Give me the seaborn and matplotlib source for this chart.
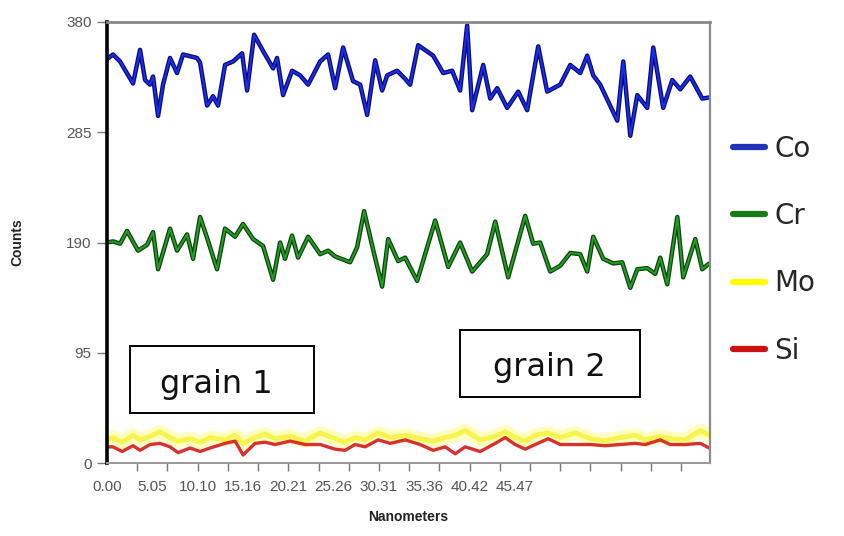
import numpy as np
import pandas as pd
import matplotlib
matplotlib.use("Agg")
import matplotlib.pyplot as plt
import matplotlib.patheffects as pe
from matplotlib.lines import Line2D
from matplotlib.patches import Rectangle
import seaborn as sns

# ---------------- data (nm, counts) ----------------
co_x = [0.0, 0.67, 1.45, 2.90, 3.68, 4.24, 4.79, 5.13, 5.69, 6.24, 7.02, 7.80, 8.47, 10.03, 10.37,
        11.15, 11.82, 12.37, 13.15, 14.05, 15.05, 15.61, 16.39, 17.39, 18.51, 18.95, 19.62, 20.62,
        21.52, 22.41, 23.75, 24.64, 25.42, 26.31, 27.42, 28.21, 28.99, 29.88, 30.66, 31.22, 32.33,
        33.22, 33.78, 34.67, 36.34, 37.46, 38.46, 39.35, 40.13, 40.69, 41.92, 42.70, 43.48, 44.59,
        45.82, 46.82, 48.05, 49.05, 50.50, 51.62, 52.73, 53.51, 54.18, 54.96, 56.86, 57.53, 58.31,
        59.09, 60.20, 60.87, 61.98, 62.99, 63.88, 64.99, 66.33, 67.11]
co_y = [348, 352, 346, 327, 356, 330, 326, 333, 299, 326, 349, 336, 352, 349, 345,
        308, 316, 308, 343, 346, 353, 321, 369, 355, 340, 349, 317, 338,
        334, 326, 346, 352, 323, 358, 329, 326, 300, 347, 321, 334, 338,
        331, 326, 360, 351, 336, 338, 321, 377, 304, 343, 314, 323, 306,
        320, 304, 359, 320, 326, 343, 336, 351, 334, 326, 295, 346, 282,
        317, 306, 358, 306, 330, 322, 333, 314, 315]

cr_x = [0.0, 0.67, 1.45, 2.23, 3.46, 4.46, 5.13, 5.69, 7.02, 7.80, 8.92, 9.59, 10.37, 11.15, 12.26,
        13.15, 14.27, 15.16, 16.28, 17.39, 18.51, 19.29, 19.84, 20.62, 21.29, 22.41, 23.75, 24.64,
        25.42, 27.09, 27.87, 28.65, 29.65, 30.66, 31.33, 32.44, 33.22, 34.56, 36.57, 38.02, 39.35,
        40.69, 42.36, 43.26, 44.70, 46.60, 47.49, 48.27, 49.39, 50.50, 51.62, 52.73, 53.51, 54.18,
        55.30, 56.41, 57.41, 58.31, 59.09, 60.20, 61.09, 61.65, 62.43, 63.55, 64.21, 65.55, 66.33,
        67.11]
cr_y = [190, 191, 189, 200, 183, 188, 199, 167, 202, 183, 197, 176, 212, 194, 167,
        202, 195, 206, 193, 187, 158, 190, 176, 196, 177, 195, 180, 183,
        178, 173, 186, 217, 184, 152, 193, 174, 177, 157, 209, 169, 190,
        165, 180, 208, 160, 213, 189, 190, 165, 170, 181, 180, 165, 195,
        176, 172, 173, 151, 167, 168, 163, 177, 154, 212, 160, 193, 167,
        172]

trace_x = [0.0, 0.67, 1.67, 2.90, 3.68, 4.79, 5.91, 7.02, 7.92, 9.25, 10.37, 11.48, 13.15, 14.27,
           15.16, 16.50, 17.61, 18.73, 20.40, 22.07, 23.75, 25.42, 26.53, 27.65, 28.76, 30.21,
           31.55, 33.22, 34.89, 36.34, 37.68, 38.80, 39.91, 41.58, 43.26, 44.37, 45.48, 46.60,
           47.71, 49.16, 50.50, 52.17, 53.85, 55.52, 57.19, 58.86, 59.98, 61.65, 62.76, 64.44,
           66.11, 67.11]
mo_y = [20, 22, 18, 24, 20, 23, 27, 22, 19, 21, 18, 22, 20, 24,
        17, 22, 25, 21, 23, 19, 26, 21, 18, 22, 20, 26,
        22, 24, 21, 19, 22, 24, 28, 20, 23, 27, 22, 19,
        24, 26, 22, 26, 21, 19, 22, 24, 20, 23, 21, 20,
        28, 24]
si_y = [14, 14, 10, 15, 11, 16, 17, 14, 9, 13, 10, 13, 17, 19,
        7, 17, 18, 16, 19, 16, 16, 12, 11, 16, 14, 20,
        17, 20, 16, 11, 14, 8, 14, 10, 17, 22, 16, 12,
        16, 21, 16, 16, 16, 15, 16, 17, 16, 20, 16, 16,
        17, 13]

elements = ["Co", "Cr", "Mo", "Si"]
x_tick_values = [0.00, 5.05, 10.10, 15.16, 20.21, 25.26, 30.31, 35.36, 40.42, 45.47]
x_tick_labels = ["0.00", "5.05", "10.10", "15.16", "20.21", "25.26", "30.31", "35.36", "40.42", "45.47"]
y_ticks = [0, 95, 190, 285, 380]

# ---------------- style ----------------
sns.set_style("white")
plt.rcParams["font.family"] = ["DejaVu Sans"]

fig = plt.figure(figsize=(8.44, 5.36), dpi=100)
ax = fig.add_axes([0.1268, 0.136, 0.7145, 0.823])

co_df = pd.DataFrame({"nm": co_x, "counts": co_y})
cr_df = pd.DataFrame({"nm": cr_x, "counts": cr_y})
tr_df = pd.DataFrame({"nm": trace_x, "Mo": mo_y, "Si": si_y})

# Mo: fuzzy yellow
sns.lineplot(data=tr_df, x="nm", y="Mo", ax=ax, color="#ffff70", lw=10, alpha=0.45,
             sort=False, estimator=None)
sns.lineplot(data=tr_df, x="nm", y="Mo", ax=ax, color="#f5f020", lw=3.5, alpha=0.7,
             sort=False, estimator=None)
# Si red
sns.lineplot(data=tr_df, x="nm", y="Si", ax=ax, color="#d41a1a", lw=2.4, alpha=0.9,
             sort=False, estimator=None)
# Cr green with dark edge
sns.lineplot(data=cr_df, x="nm", y="counts", ax=ax, color="#22a022", lw=1.4,
             sort=False, estimator=None,
             path_effects=[pe.Stroke(linewidth=3.2, foreground="#0e400e"), pe.Normal()])
# Co blue with dark edge
sns.lineplot(data=co_df, x="nm", y="counts", ax=ax, color="#1a2ef0", lw=1.4,
             sort=False, estimator=None,
             path_effects=[pe.Stroke(linewidth=3.2, foreground="#0a0a70"), pe.Normal()])

ax.set_xlim(0, 67.2)
ax.set_ylim(0, 380)
ax.set_yticks(y_ticks)
ax.set_yticklabels([str(v) for v in y_ticks])
ax.set_xticks(x_tick_values)
ax.set_xticklabels(x_tick_labels)
ax.set_xticks(np.arange(0, 64.5, 3.367), minor=True)

ax.tick_params(axis="x", which="major", length=0, pad=12, labelsize=11, labelcolor="#555555")
ax.tick_params(axis="x", which="minor", length=6, width=1, color="#777777", direction="out",
               bottom=True)
ax.tick_params(axis="y", which="major", length=7, width=1, color="#777777", direction="out",
               left=True, labelsize=11, labelcolor="#555555", pad=4)
for lab in ax.get_xticklabels() + ax.get_yticklabels():
    lab.set_fontfamily("Liberation Sans")

ax.set_xlabel("Nanometers", fontsize=10, fontweight="bold", family="Liberation Sans",
              color="#222222", labelpad=12)
ax.set_ylabel("Counts", fontsize=10, fontweight="bold", family="Liberation Sans",
              color="#222222", labelpad=30)

ax.spines["left"].set_color("black")
ax.spines["left"].set_linewidth(2.6)
ax.spines["top"].set_color("#8a8a8a")
ax.spines["top"].set_linewidth(2.0)
ax.spines["right"].set_color("#8a8a8a")
ax.spines["right"].set_linewidth(1.6)
ax.spines["bottom"].set_color("#999999")
ax.spines["bottom"].set_linewidth(1.4)

# grain boxes
ax.add_patch(Rectangle((2.56, 43), 20.5, 58, facecolor="white", edgecolor="black", lw=1.4, zorder=5))
ax.text(12.2, 68, "grain 1", fontsize=23, ha="center", va="center", zorder=6, color="#111111")
ax.add_patch(Rectangle((39.35, 57), 20.05, 58, facecolor="white", edgecolor="black", lw=1.4, zorder=5))
ax.text(49.3, 82, "grain 2", fontsize=23, ha="center", va="center", zorder=6, color="#111111")

# legend
handles = [Line2D([0], [0], color=c, lw=4.5) for c in ["#2233bb", "#1a7a1a", "#ffff00", "#cc1111"]]
fig.legend(handles, elements, loc="upper left", bbox_to_anchor=(0.868, 0.749), frameon=False,
           fontsize=20, handlelength=1.15, handletextpad=0.35, labelspacing=1.42,
           borderpad=0, borderaxespad=0)

fig.savefig("out.png", dpi=100)
